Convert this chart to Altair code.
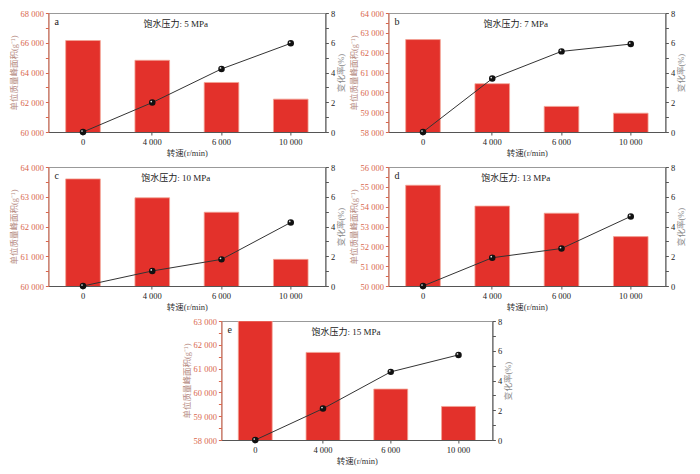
import altair as alt
import pandas as pd

speeds = ["0", "4 000", "6 000", "10 000"]

labels = ["a", "b", "c", "d", "e"]
pressures = ["饱水压力: 5 MPa", "饱水压力: 7 MPa", "饱水压力: 10 MPa", "饱水压力: 13 MPa", "饱水压力: 15 MPa"]

area_a = [66150, 64820, 63330, 62210]
rate_a = [0, 1.98, 4.24, 5.96]
area_b = [62660, 60435, 59290, 58950]
rate_b = [0, 3.59, 5.42, 5.91]
area_c = [63600, 62965, 62480, 60895]
rate_c = [0, 1.01, 1.79, 4.27]
area_d = [55080, 54030, 53670, 52490]
rate_d = [0, 1.90, 2.52, 4.68]
area_e = [63000, 61680, 60140, 59410]
rate_e = [0, 2.11, 4.58, 5.72]

ranges = [(60000, 68000, 2000), (58000, 64000, 1000), (60000, 64000, 1000),
          (50000, 56000, 1000), (58000, 63000, 1000)]
rate_ticks = [0, 1, 2, 3, 4, 5, 6, 7, 8]

FONT = "Liberation Serif, Noto Sans CJK SC"
RED = "#e3312b"
AXRED = "#d9664c"


def panel(letter, pressure, area, rate, rng, w, h):
    ymin, ymax, step = rng
    df = pd.DataFrame({"speed": speeds, "area": area, "rate": rate})
    base = alt.Chart(df)
    xenc = alt.X(
        "speed:N", sort=speeds,
        scale=alt.Scale(paddingInner=0.5, paddingOuter=0.25),
        axis=alt.Axis(title="转速(r/min)", labelAngle=0, labelFontSize=8.5,
                      titleFontSize=8.5, titleFontWeight="normal",
                      labelPadding=2, titlePadding=3, tickSize=3,
                      domainColor="#555", tickColor="#555",
                      labelColor="#222", titleColor="#333",
                      labelFont=FONT, titleFont=FONT),
    )
    vals = list(range(ymin, ymax + 1, step // 2))
    bars = base.mark_bar(color=RED, stroke="#f3a394", strokeWidth=0.8, clip=True).encode(
        x=xenc,
        y=alt.Y("area:Q",
                scale=alt.Scale(domain=[ymin, ymax], zero=False, nice=False),
                axis=alt.Axis(
                    title="单位质量峰面积(g⁻¹)", orient="left", values=vals,
                    labelExpr=f"(datum.value - {ymin}) % {step} == 0 ? replace(format(datum.value, ','), ',', ' ') : ''",
                    labelOverlap=False, labelFontSize=8.5, titleFontSize=8.5,
                    titleFontWeight="normal", labelPadding=2, titlePadding=2,
                    tickSize=3, domainColor=AXRED, tickColor=AXRED,
                    labelColor=AXRED, titleColor="#b58a82",
                    labelFont=FONT, titleFont=FONT, grid=False)),
    )
    yr = alt.Y("rate:Q", scale=alt.Scale(domain=[0, 8], nice=False),
               axis=alt.Axis(title="变化率(%)", orient="right", values=rate_ticks,
                             labelExpr="datum.value % 2 == 0 ? '' + datum.value : ''",
                             labelOverlap=False, labelFontSize=8.5, titleFontSize=8.5,
                             titleFontWeight="normal", titleAngle=270, titleBaseline="top",
                             labelPadding=2, titlePadding=2, tickSize=3,
                             domainColor="#555", tickColor="#555",
                             labelColor="#222", titleColor="#888",
                             labelFont=FONT, titleFont=FONT, grid=False))
    xs = alt.X("speed:N", sort=speeds)
    line = base.mark_line(color="#333", strokeWidth=1).encode(x=xs, y=yr)
    pts = base.mark_circle(color="#111", size=42, opacity=1).encode(x=xs, y=yr)
    hl = base.mark_circle(color="#ddd", size=3, opacity=1, xOffset=-1, yOffset=-1).encode(x=xs, y=yr)
    lab = alt.Chart(pd.DataFrame({"t": [letter]})).mark_text(
        font=FONT, fontSize=10, align="left", baseline="middle", color="#222").encode(
        text="t:N", x=alt.value(6), y=alt.value(9))
    ttl = alt.Chart(pd.DataFrame({"t": [pressure]})).mark_text(
        font=FONT, fontSize=9, align="center", baseline="middle", color="#222").encode(
        text="t:N", x=alt.value(w * 0.46), y=alt.value(11))
    right = alt.layer(line, pts, hl, lab, ttl)
    return alt.layer(bars, right).resolve_scale(y="independent").properties(width=w, height=h)


W, H = 277, 119
areas = [area_a, area_b, area_c, area_d, area_e]
rates = [rate_a, rate_b, rate_c, rate_d, rate_e]
p = [panel(labels[i], pressures[i], areas[i], rates[i], ranges[i], 271 if i == 4 else W, H)
     for i in range(5)]

row1 = alt.hconcat(p[0], p[1], spacing=2)
row2 = alt.hconcat(p[2], p[3], spacing=2)
chart = alt.vconcat(row1, row2, p[4], spacing=4, center=True).properties(
    padding=0
).configure_view(stroke="#999", strokeWidth=1).configure_axis(labelOverlap=False)

chart.save("out.html", embed_options={"renderer": "svg", "actions": False})
